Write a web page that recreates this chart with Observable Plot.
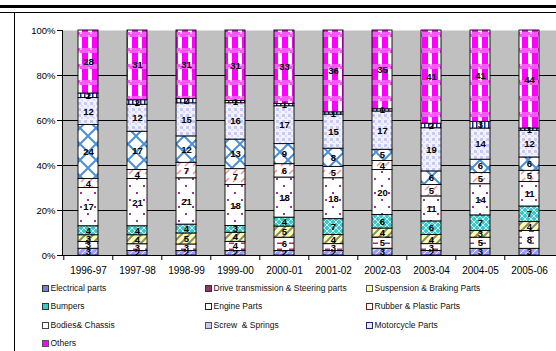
<!DOCTYPE html>
<html>
<head>
<meta charset="utf-8">
<script src="https://cdn.jsdelivr.net/npm/d3@7"></script>
<script src="https://cdn.jsdelivr.net/npm/@observablehq/plot@0.6"></script>
<style>
  body { margin: 0; background: #fff; }
  #root { position: relative; width: 556px; height: 351px; overflow: hidden; background: #fff; font-family: "Liberation Sans", Arial, sans-serif; }
  .hl { position: absolute; background: #000; }
  #chart { position: absolute; left: 0; top: 0; }
  .lg { position: absolute; font-size: 8.5px; color: #111; white-space: pre; line-height: 10px; }
  .sw { position: absolute; width: 5px; height: 5px; border: 1px solid #333; }
</style>
</head>
<body>
<svg width="0" height="0" style="position:absolute">
  <defs>
    <pattern id="p0" patternUnits="userSpaceOnUse" width="6" height="6">
      <rect width="6" height="6" fill="#9a9aff"/>
      <path d="M0,6 L6,0" stroke="#e6e6ff" stroke-width="1.2"/>
    </pattern>
    <pattern id="p1" patternUnits="userSpaceOnUse" width="12" height="6">
      <rect width="12" height="6" fill="#fff"/>
      <rect x="1" y="2.5" width="5" height="1.5" fill="#b0306a"/>
    </pattern>
    <pattern id="p2" patternUnits="userSpaceOnUse" width="8" height="8">
      <rect width="8" height="8" fill="#ffffa8"/>
      <path d="M0,8 L8,0 M-2,2 L2,-2 M6,10 L10,6" stroke="#8a8a7a" stroke-width="2"/>
    </pattern>
    <pattern id="p3" patternUnits="userSpaceOnUse" width="6" height="6">
      <rect width="6" height="6" fill="#3cc8c8"/>
      <path d="M0,0 L6,6 M6,0 L0,6" stroke="#c8f0f0" stroke-width="1"/>
    </pattern>
    <pattern id="p4" patternUnits="userSpaceOnUse" width="14" height="14">
      <rect width="14" height="14" fill="#fff"/>
      <rect x="3" y="3" width="2" height="2" fill="#9b3399"/>
      <rect x="10" y="10" width="2" height="2" fill="#9b3399"/>
    </pattern>
    <pattern id="p5" patternUnits="userSpaceOnUse" width="8" height="8">
      <rect width="8" height="8" fill="#fff"/>
      <path d="M1,6 L5,2" stroke="#ff8c8c" stroke-width="1.5"/>
    </pattern>
    <pattern id="p6" patternUnits="userSpaceOnUse" width="16" height="16">
      <rect width="16" height="16" fill="#fff"/>
      <path d="M0,0 L16,16 M16,0 L0,16" stroke="#4a8fdc" stroke-width="2"/>
    </pattern>
    <pattern id="p7" patternUnits="userSpaceOnUse" width="6" height="6">
      <rect width="6" height="6" fill="#f2f2ff"/>
      <rect x="0" y="0" width="3" height="3" fill="#c8c8f4"/>
      <rect x="3" y="3" width="2" height="2" fill="#d8d8f8"/>
    </pattern>
    <pattern id="p8" patternUnits="userSpaceOnUse" width="4" height="4">
      <rect width="4" height="4" fill="#fff"/>
      <rect x="0" y="0" width="1.5" height="4" fill="#1a2a8a"/>
    </pattern>
    <pattern id="p9" patternUnits="userSpaceOnUse" width="10" height="16">
      <rect width="10" height="16" fill="#fff"/>
      <rect x="2" y="0" width="6" height="16" fill="#ff00ff"/>
      <rect x="0" y="0" width="10" height="5" fill="#ff55ff"/>
      <rect x="0" y="0" width="2" height="2" fill="#ffb0ff"/>
      <rect x="8" y="3" width="2" height="2" fill="#ffb0ff"/>
    </pattern>
  </defs>
</svg>
<div id="root">
  <div class="hl" style="left:0;top:5px;width:556px;height:3px"></div>
  <div class="hl" style="left:0;top:12px;width:556px;height:1px"></div>
  <div class="hl" style="left:14px;top:12px;width:1px;height:339px"></div>
  <div id="chart"></div>
  <div id="legend"></div>
</div>
<script>
const years = ["1996-97","1997-98","1998-99","1999-00","2000-01","2001-02","2002-03","2003-04","2004-05","2005-06"];
const categories = ["Electrical parts","Drive transmission & Steering parts","Suspension & Braking Parts","Bumpers","Engine Parts","Rubber & Plastic Parts","Bodies& Chassis","Screw  & Springs","Motorcycle Parts","Others"];
const electrical = [3,2,2,2,2,2,3,2,3,3];
const drive      = [3,3,3,4,6,3,5,3,5,8];
const suspension = [3,4,5,4,5,4,4,4,3,4];
const bumpers    = [4,4,4,3,4,7,6,6,7,7];
const engine     = [17,21,21,18,18,18,20,11,14,11];
const rubber     = [4,4,7,7,6,5,4,5,5,5];
const bodies     = [24,17,12,13,9,8,5,6,6,6];
const screw      = [12,12,15,16,17,15,17,19,14,12];
const motorcycle = [2,2,2,1,1,1,1,2,3,1];
const others     = [28,31,31,31,33,36,35,41,41,44];
const yTicks = [0,0.2,0.4,0.6,0.8,1];

const series = [electrical,drive,suspension,bumpers,engine,rubber,bodies,screw,motorcycle,others];
const patterns = categories.map((c,i) => `url(#p${i})`);
const swatchColors = ["#7a7ae0","#993366","#ffff99","#33cccc","#ffffff","#ffffff","#ffffff","#c8c8f0","#e8e8ff","#ff00ff"];
const swatchBorders = ["#333","#333","#555","#333","#222","#6b2020","#444","#555","#1a2a6a","#555"];

const rows = [];
years.forEach((y, j) => {
  categories.forEach((c, i) => {
    rows.push({year: y, category: c, value: series[i][j], pattern: patterns[i]});
  });
});

const W = 556, ML = 62;
const step = (W - ML) / years.length;

const chart = Plot.plot({
  width: W, height: 285,
  marginLeft: ML, marginRight: 0, marginTop: 30, marginBottom: 30,
  style: {fontFamily: "'Liberation Sans', Arial, sans-serif", fontSize: "10px", background: "transparent", color: "#000", overflow: "visible"},
  x: {domain: years, paddingInner: 0.59, paddingOuter: 0.295, label: null},
  y: {domain: [0, 1], label: null},
  color: {type: "identity"},
  marks: [
    Plot.frame({fill: "#c0c0c0", stroke: null}),
    Plot.ruleY(yTicks.slice(1, -1), {stroke: "#000", strokeWidth: 1}),
    Plot.barY(rows, Plot.stackY({x: "year", y: "value", fill: "pattern", offset: "normalize", stroke: "#000", strokeWidth: 0.9})),
    Plot.text(rows, Plot.stackY({x: "year", y: "value", text: d => String(d.value), offset: "normalize", fill: "#000", fontWeight: "bold", fontSize: 9.5})),
    Plot.axisY(yTicks, {tickSize: 5, tickPadding: 2, tickFormat: d3.format(".0%"), fontSize: 9.5, label: null, stroke: "#000"}),
    Plot.frame({anchor: "left", stroke: "#000"}),
    Plot.ruleY([0], {stroke: "#000"}),
    Plot.axisX({tickSize: 0, tickPadding: 11, fontSize: 10, label: null}),
    Plot.axisX({tickSize: 5, tickFormat: () => "", dx: -step / 2, label: null, stroke: "#000"})
  ]
});
document.getElementById("chart").appendChild(chart);

// legend
const legend = document.getElementById("legend");
const colX = [42, 205, 366];
const rowY = [288, 306.5, 325, 343.3];
categories.forEach((c, i) => {
  const col = i % 3, row = Math.floor(i / 3);
  const sw = document.createElement("div");
  sw.className = "sw";
  sw.style.left = colX[col] + "px";
  sw.style.top = (rowY[row] - 3.5) + "px";
  sw.style.background = swatchColors[i];
  sw.style.borderColor = swatchBorders[i];
  legend.appendChild(sw);
  const t = document.createElement("div");
  t.className = "lg";
  t.style.left = (colX[col] + 8.5) + "px";
  t.style.top = (rowY[row] - 5.5) + "px";
  t.textContent = c;
  legend.appendChild(t);
});
</script>
</body>
</html>
